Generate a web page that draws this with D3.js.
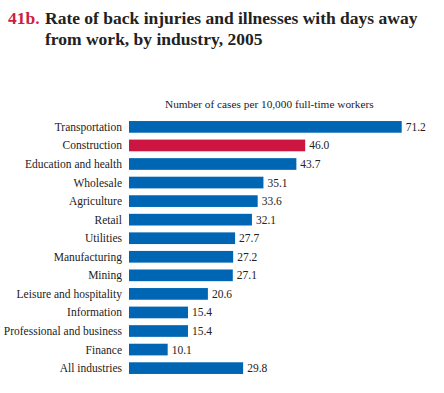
<!DOCTYPE html>
<html>
<head>
  <script src="https://cdn.jsdelivr.net/npm/d3@7"></script>
  <style>
    body { margin: 0; background: #fff; }
    text { font-family: "Liberation Serif", "Times New Roman", serif; }
  </style>
</head>
<body>
  <div id="viz"></div>
  <script>
    // data
    var industries = ["Transportation", "Construction", "Education and health", "Wholesale",
      "Agriculture", "Retail", "Utilities", "Manufacturing", "Mining",
      "Leisure and hospitality", "Information", "Professional and business",
      "Finance", "All industries"];
    var rates = [71.2, 46.0, 43.7, 35.1, 33.6, 32.1, 27.7, 27.2, 27.1, 20.6, 15.4, 15.4, 10.1, 29.8];
    var highlight = "Construction";

    var width = 444, height = 393;
    var svg = d3.select("#viz").append("svg")
        .attr("width", width)
        .attr("height", height);

    // title
    var title = svg.append("text").attr("font-weight", "bold").attr("font-size", 17.5);
    title.append("tspan").attr("x", 8).attr("y", 24).attr("fill", "#cc1f3f").text("41b.");
    title.append("tspan").attr("x", 45).attr("y", 24).attr("fill", "#222").text("Rate of back injuries and illnesses with days away");
    title.append("tspan").attr("x", 45).attr("y", 44.5).attr("fill", "#222").text("from work, by industry, 2005");

    var x = d3.scaleLinear().domain([0, 71.2]).range([129, 401.7]);
    var y = d3.scaleBand().domain(industries).range([117.6, 377.4]).paddingInner(0.37).paddingOuter(0.185);

    svg.append("text")
        .attr("x", 165).attr("y", 108)
        .attr("font-size", 11.3).attr("fill", "#222")
        .text("Number of cases per 10,000 full-time workers");

    var rows = svg.selectAll("g.row")
        .data(industries)
        .join("g").attr("class", "row");

    rows.append("rect")
        .attr("x", x(0))
        .attr("y", function(d) { return y(d); })
        .attr("width", function(d, i) { return x(rates[i]) - x(0); })
        .attr("height", y.bandwidth())
        .attr("fill", function(d) { return d === highlight ? "#cc1540" : "#0066b3"; });

    rows.append("text")
        .attr("x", 122)
        .attr("y", function(d) { return y(d) + y.bandwidth() / 2; })
        .attr("dy", "0.35em")
        .attr("text-anchor", "end")
        .attr("font-size", 11.5).attr("fill", "#222")
        .text(function(d) { return d; });

    rows.append("text")
        .attr("x", function(d, i) { return x(rates[i]) + 4; })
        .attr("y", function(d) { return y(d) + y.bandwidth() / 2; })
        .attr("dy", "0.35em")
        .attr("font-size", 11.5).attr("fill", "#222")
        .text(function(d, i) { return rates[i].toFixed(1); });
  </script>
</body>
</html>
